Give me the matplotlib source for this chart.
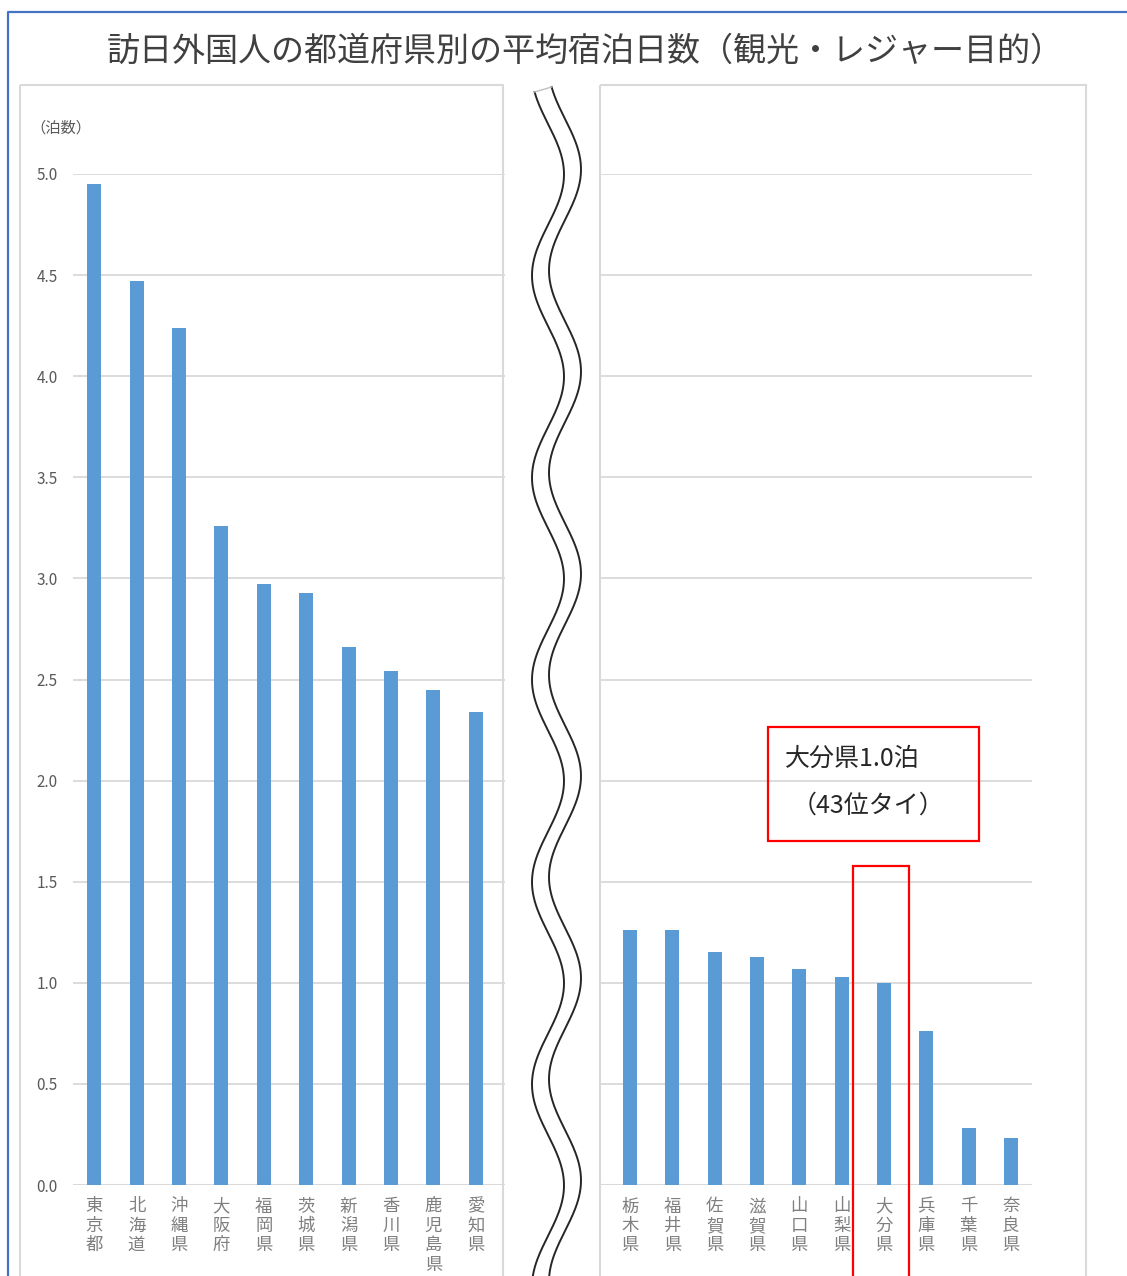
import numpy as np
import matplotlib
matplotlib.use('agg')
import matplotlib.pyplot as plt
from matplotlib.patches import Rectangle

plt.rcParams['font.family'] = ['Noto Sans CJK JP', 'DejaVu Sans']

# average nights per prefecture (sightseeing / leisure)
top_names = ['東京都', '北海道', '沖縄県', '大阪府', '福岡県', '茨城県', '新潟県', '香川県', '鹿児島県', '愛知県']
top_nights = [4.95, 4.47, 4.24, 3.26, 2.97, 2.93, 2.66, 2.54, 2.45, 2.34]

low_names = ['栃木県', '福井県', '佐賀県', '滋賀県', '山口県', '山梨県', '大分県', '兵庫県', '千葉県', '奈良県']
low_nights = [1.26, 1.26, 1.15, 1.13, 1.07, 1.03, 1.0, 0.76, 0.28, 0.23]

yticks = [0.0, 0.5, 1.0, 1.5, 2.0, 2.5, 3.0, 3.5, 4.0, 4.5, 5.0]

W, H = 1127, 1276
bar_c = '#5b9bd5'
grid_c = '#d9d9d9'
tick_c = '#595959'
lab_c = '#7f7f7f'

fig = plt.figure(figsize=(W / 100, H / 100), dpi=100)

# background layer in pixel coordinates for frames and the break mark
bg = fig.add_axes([0, 0, 1, 1], zorder=0)
bg.set_xlim(0, W)
bg.set_ylim(H, 0)
bg.axis('off')

bg.plot([8, 8, W], [H, 12, 12], color='#4472c4', lw=1.6)
bg.add_patch(Rectangle((20, 85), 483, H, fill=False, ec=grid_c, lw=1.5))
bg.add_patch(Rectangle((600, 85), 486, H, fill=False, ec=grid_c, lw=1.5))

fig.text(585 / W, 1 - 51 / H, '訪日外国人の都道府県別の平均宿泊日数（観光・レジャー目的）',
         ha='center', va='center', fontsize=23.8, color='#404040')


def setup(ax, names, values, xlim):
    x = np.arange(len(names))
    ax.bar(x, values, width=0.33, color=bar_c, zorder=3)
    ax.set_xlim(*xlim)
    ax.set_ylim(0, 5.0)
    ax.set_yticks(yticks)
    ax.grid(axis='y', color=grid_c, lw=1.3, zorder=0)
    for sp in ax.spines.values():
        sp.set_visible(False)
    ax.axhline(0, color=grid_c, lw=1.5, zorder=2)
    ax.set_xticks(x)
    ax.set_xticklabels(['\n'.join(n) for n in names], fontsize=12.5, color=lab_c,
                       va='top', linespacing=1.1)
    ax.tick_params(axis='both', length=0)
    ax.tick_params(axis='x', pad=9)
    ax.tick_params(axis='y', pad=11, labelsize=11, labelcolor=tick_c)
    ax.patch.set_visible(False)


ax1 = fig.add_axes([73 / W, 91 / H, 432 / W, 1011 / H], zorder=2)
setup(ax1, top_names, top_nights, (-0.5, 9.69))
ax1.text(-1.5, 5.225, '（泊数）', fontsize=11, color=tick_c, ha='left', va='center')

ax2 = fig.add_axes([600 / W, 91 / H, 432 / W, 1011 / H], zorder=2)
setup(ax2, low_names, low_nights, (-0.71, 9.5))
ax2.set_yticklabels([])

# highlight for Oita
oita = low_names.index('大分県')
ax2.add_patch(Rectangle((oita - 0.73, -0.6), 1.32, 2.18, fill=False, ec='#ff0000',
                        lw=1.6, clip_on=False, zorder=5))
ax2.add_patch(Rectangle((3.26, 1.70), 4.99, 0.565, fill=False, ec='#ff0000',
                        lw=1.6, clip_on=False, zorder=5))
ax2.text(3.66, 2.11, f'大分県{low_nights[oita]:.1f}泊', fontsize=18, color='#262626',
         ha='left', va='center', zorder=6)
ax2.text(5.62, 1.874, '（43位タイ）', fontsize=18, color='#262626',
         ha='center', va='center', zorder=6)

# wavy break between the two halves
yy = np.linspace(92, H + 5, 600)
xl = 548 + 16 * np.cos(2 * np.pi * (yy - 781) / 202.2)
xr = xl + 17
bg.fill_betweenx(yy, xl, xr, color='white', zorder=3)
bg.plot(xl, yy, color='#262626', lw=1.4, zorder=4)
bg.plot(xr, yy - 5, color='#262626', lw=1.4, zorder=4)
bg.plot([xl[0], xr[0]], [yy[0], yy[0] - 5], color='#bfbfbf', lw=1, zorder=4)

fig.savefig('out.png', dpi=100)
